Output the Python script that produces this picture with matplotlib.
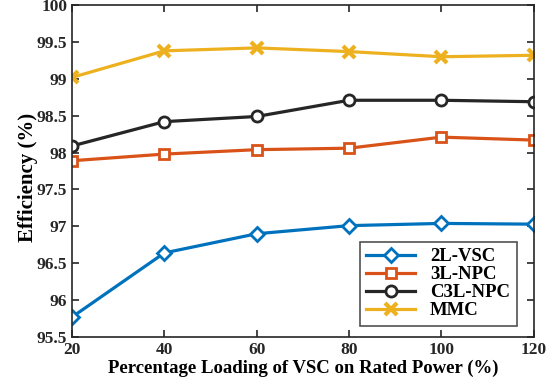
import matplotlib
matplotlib.use("Agg")
import matplotlib.pyplot as plt

loading = [20, 40, 60, 80, 100, 120]
vsc2l = [95.77, 96.64, 96.90, 97.01, 97.04, 97.03]
npc3l = [97.89, 97.98, 98.04, 98.06, 98.21, 98.17]
c3lnpc = [98.09, 98.42, 98.49, 98.71, 98.71, 98.69]
mmc = [99.02, 99.38, 99.42, 99.37, 99.30, 99.32]
labels = ["2L-VSC", "3L-NPC", "C3L-NPC", "MMC"]
xticks = [20, 40, 60, 80, 100, 120]
yticks = [95.5, 96, 96.5, 97, 97.5, 98, 98.5, 99, 99.5, 100]

plt.rcParams['font.family'] = ['Liberation Serif', 'DejaVu Serif']
plt.rcParams['font.weight'] = 'bold'

fig = plt.figure(figsize=(5.56, 3.85), dpi=100)
ax = fig.add_axes([0.1295, 0.1247, 0.8305, 0.862])

lw = 2.3
ax.plot(loading, vsc2l, color='#0072BD', lw=lw, marker='D', ms=7, mfc='white', mew=2, label=labels[0])
ax.plot(loading, npc3l, color='#D95319', lw=lw, marker='s', ms=7.5, mfc='white', mew=2, label=labels[1])
ax.plot(loading, c3lnpc, color='#262626', lw=lw, marker='o', ms=8, mfc='white', mew=2, label=labels[2])
ax.plot(loading, mmc, color='#EDB120', lw=lw, marker='x', ms=8, mew=3, label=labels[3])

ax.set_xlim(20, 120)
ax.set_ylim(95.5, 100)
ax.set_xticks(xticks)
ax.set_xticklabels([str(v) for v in xticks])
ax.set_yticks(yticks)
ax.set_yticklabels(["%g" % v for v in yticks])
ax.tick_params(direction='in', top=True, right=True, labelsize=12.5, length=5, width=1.2, colors='#262626')
for lab in ax.get_xticklabels() + ax.get_yticklabels():
    lab.set_fontweight('bold')
for s in ax.spines.values():
    s.set_linewidth(1.2)
    s.set_color('#262626')

ax.set_xlabel("Percentage Loading of VSC on Rated Power (%)", fontsize=13.5, fontweight='bold', labelpad=1)
ax.set_ylabel("Efficiency (%)", fontsize=15, fontweight='bold', labelpad=3)
ax.yaxis.set_label_coords(-0.074, 0.48)

leg = ax.legend(loc='lower right', bbox_to_anchor=(0.963, 0.033), borderaxespad=0, fontsize=13.5,
                frameon=True, fancybox=False, edgecolor='#262626', handlelength=2.6, borderpad=0.35,
                labelspacing=0.05, handletextpad=0.8)
leg.get_frame().set_linewidth(1.2)
for t in leg.get_texts():
    t.set_fontweight('bold')

fig.savefig("out.png", dpi=100)
